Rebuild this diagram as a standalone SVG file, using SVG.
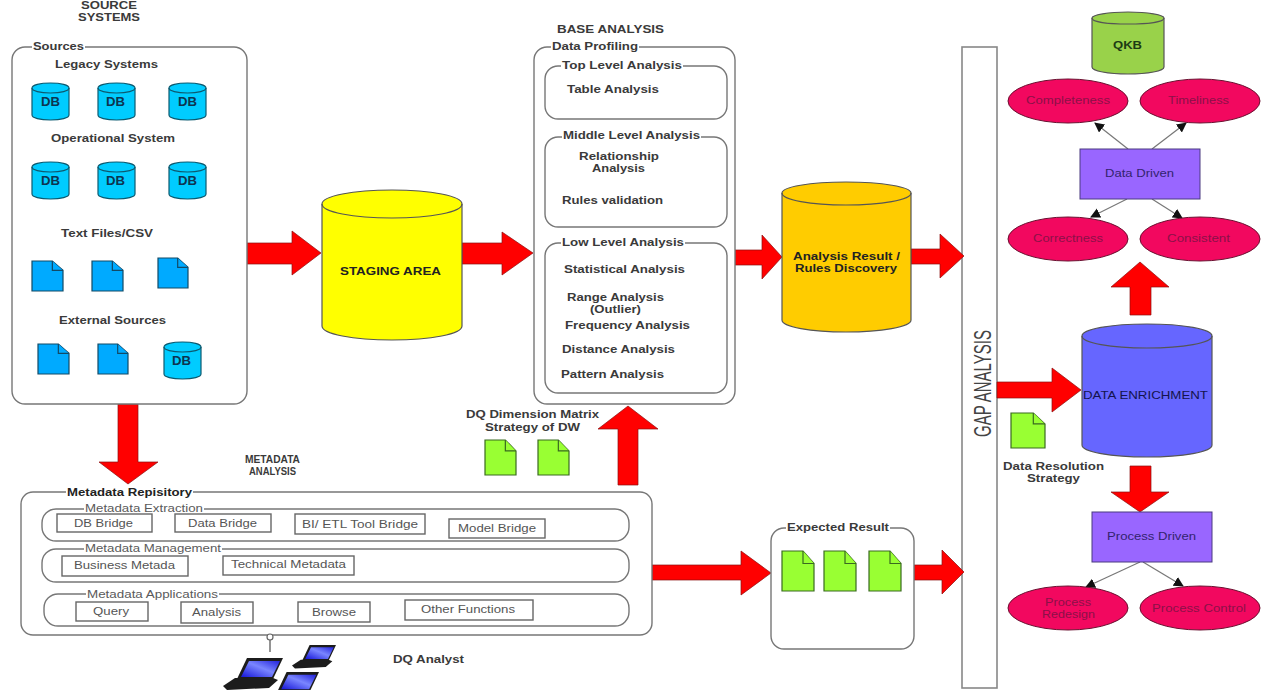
<svg xmlns="http://www.w3.org/2000/svg" xmlns:xlink="http://www.w3.org/1999/xlink" width="1263" height="690" viewBox="0 0 1263 690">
<style>
text{font-family:"Liberation Sans",Arial,sans-serif;font-size:11.5px;fill:#3a3a3a;}
.b{font-weight:bold;}
.n{fill:#555;}
.m{fill:#5a5a5a;}
.w{fill:#222;}
.dbt{font-weight:bold;fill:#0d3550;font-size:12px;}
.pink{fill:#8c1048;}
.vio{fill:#33236e;}
.box{fill:#fff;stroke:#777;stroke-width:1.4;}
.tb{fill:#fff;stroke:#666;stroke-width:1.4;}
.lg{fill:#fff;}
.arrow{fill:#ff0000;stroke:#8a1010;stroke-width:.7;}
.thin{stroke:#777;stroke-width:1.2;fill:none;marker-end:url(#tip);}
.ell{fill:#f2085f;stroke:#6a1030;stroke-width:1;}
.rct{fill:#9966ff;stroke:#4a3a80;stroke-width:1;}
.db{fill:#00ccff;stroke:#0c5a70;stroke-width:1.2;}
.bd{fill:#00aaff;stroke:#124a66;stroke-width:1.2;}
.gd{fill:#99ff33;stroke:#3a6a20;stroke-width:1.2;}
.cyl{stroke:#555;stroke-width:1.2;}
</style>
<defs>
<marker id="tip" markerWidth="11" markerHeight="11" refX="9" refY="5" orient="auto" markerUnits="userSpaceOnUse"><path d="M0,0L10,5L0,10Z" fill="#111"/></marker>
<symbol id="dbc" viewBox="0 0 37 37" overflow="visible"><path d="M0,5V32C0,35 8,37 18.500,37S37,35 37,32V5C37,2 29,0 18.500,0S0,2 0,5Z"/><path d="M0,5C0,8 8,10 18.500,10S37,8 37,5" fill="none"/></symbol>
<symbol id="doc" viewBox="0 0 32 32" preserveAspectRatio="none" overflow="visible"><path d="M0,0H21L32,10V32H0Z" vector-effect="non-scaling-stroke"/><path d="M21,0V10H32" vector-effect="non-scaling-stroke"/></symbol>
<linearGradient id="scr" x1="0" y1="1" x2="1" y2="0"><stop offset="0" stop-color="#1515d8"/><stop offset=".55" stop-color="#7a86ff"/><stop offset="1" stop-color="#2222dd"/></linearGradient>
<symbol id="lap" viewBox="0 0 60 32" overflow="visible"><path d="M14,21L24,0H60L50,21Z" fill="#1c1c1c"/><path d="M18,19L26,3H57L49,19Z" fill="url(#scr)"/><path d="M12,20H50L55,22L46,30L4,32L0,28Z" fill="#1c1c1c"/></symbol>
</defs>

<g id="gap-analysis">
<rect x="962" y="47" width="35" height="641" fill="#fff" stroke="#888" stroke-width="1.6"/>
<text transform="translate(990.500,437) rotate(-90)" x="0" y="0" textLength="107" lengthAdjust="spacingAndGlyphs" style="font-size:24px;fill:#444">GAP ANALYSIS</text>
</g>

<g id="connectors">
<path class="arrow" d="M247,243H292V231L321,253L292,275V264H247Z"/>
<path class="arrow" d="M462,243H502V232L533,253L502,275V264H462Z"/>
<path class="arrow" d="M735,250H762V235L782,257L762,279V265H735Z"/>
<path class="arrow" d="M911,249H940V234L964,256L940,278V264H911Z"/>
<path class="arrow" d="M118,404H138V462H158L128,484L99,462H118Z"/>
<path class="arrow" d="M618,485V429H598L628,406L658,429H638V485Z"/>
<path class="arrow" d="M652,565H741V551L771,573L741,595V580H652Z"/>
<path class="arrow" d="M914,565H942V550L964,572L942,594V580H914Z"/>
<path class="arrow" d="M997,382H1052V368L1081,390L1052,412V398H997Z"/>
<path class="arrow" d="M1130,315V287H1111L1140,262L1169,287H1151V315Z"/>
<path class="arrow" d="M1130,466H1151V492H1169L1140,512L1111,492H1130Z"/>
<line class="thin" x1="1128" y1="149" x2="1095" y2="123"/>
<line class="thin" x1="1152" y1="149" x2="1186" y2="123"/>
<line class="thin" x1="1127" y1="199" x2="1091" y2="217"/>
<line class="thin" x1="1152" y1="199" x2="1182" y2="218"/>
<line class="thin" x1="1140" y1="562" x2="1086" y2="587"/>
<line class="thin" x1="1143" y1="562" x2="1183" y2="586"/>
<line x1="270" y1="640" x2="270" y2="652" stroke="#666" stroke-width="1.4"/>
</g>

<g id="source-systems-title">
<text class="b" x="81" y="9" textLength="56" lengthAdjust="spacingAndGlyphs">SOURCE</text>
<text class="b" x="78" y="21" textLength="62" lengthAdjust="spacingAndGlyphs">SYSTEMS</text>
</g>

<g id="sources">
<rect class="box" x="12" y="47" width="235" height="357" rx="13"/>
<rect class="lg" x="32" y="42" width="53" height="10"/>
<text class="b" x="33" y="50" textLength="51" lengthAdjust="spacingAndGlyphs">Sources</text>
<text class="b" x="55" y="68" textLength="103" lengthAdjust="spacingAndGlyphs">Legacy Systems</text>
<text class="b" x="51" y="142" textLength="124" lengthAdjust="spacingAndGlyphs">Operational System</text>
<text class="b" x="61" y="237" textLength="92" lengthAdjust="spacingAndGlyphs">Text Files/CSV</text>
<text class="b" x="59" y="324" textLength="107" lengthAdjust="spacingAndGlyphs">External Sources</text>
<use class="db" xlink:href="#dbc" href="#dbc" x="32" y="83" width="37" height="37"/>
<use class="db" xlink:href="#dbc" href="#dbc" x="98" y="83" width="37" height="37"/>
<use class="db" xlink:href="#dbc" href="#dbc" x="169" y="83" width="37" height="37"/>
<use class="db" xlink:href="#dbc" href="#dbc" x="32" y="162" width="37" height="37"/>
<use class="db" xlink:href="#dbc" href="#dbc" x="98" y="162" width="37" height="37"/>
<use class="db" xlink:href="#dbc" href="#dbc" x="169" y="162" width="37" height="37"/>
<use class="db" xlink:href="#dbc" href="#dbc" x="164" y="342" width="37" height="37"/>
<text class="dbt" x="41" y="106" textLength="19" lengthAdjust="spacingAndGlyphs">DB</text>
<text class="dbt" x="106" y="106" textLength="19" lengthAdjust="spacingAndGlyphs">DB</text>
<text class="dbt" x="178" y="106" textLength="19" lengthAdjust="spacingAndGlyphs">DB</text>
<text class="dbt" x="41" y="185" textLength="19" lengthAdjust="spacingAndGlyphs">DB</text>
<text class="dbt" x="106" y="185" textLength="19" lengthAdjust="spacingAndGlyphs">DB</text>
<text class="dbt" x="178" y="185" textLength="19" lengthAdjust="spacingAndGlyphs">DB</text>
<text class="dbt" x="172" y="365" textLength="19" lengthAdjust="spacingAndGlyphs">DB</text>
<use class="bd" xlink:href="#doc" href="#doc" x="32" y="261" width="31" height="30"/>
<use class="bd" xlink:href="#doc" href="#doc" x="92" y="261" width="31" height="30"/>
<use class="bd" xlink:href="#doc" href="#doc" x="158" y="258" width="30" height="30"/>
<use class="bd" xlink:href="#doc" href="#doc" x="38" y="344" width="31" height="30"/>
<use class="bd" xlink:href="#doc" href="#doc" x="98" y="344" width="30" height="30"/>
</g>

<g id="staging-area">
<path class="cyl" fill="#ffff00" d="M322,204V326C322,334 353,340 392,340S462,334 462,326V204C462,196 431,190 392,190S322,196 322,204Z"/>
<path class="cyl" fill="none" d="M322,204C322,212 353,218 392,218S462,212 462,204"/>
<text class="b w" x="340" y="275" textLength="101" lengthAdjust="spacingAndGlyphs">STAGING AREA</text>
</g>

<g id="base-analysis">
<text class="b" x="557" y="33" textLength="107" lengthAdjust="spacingAndGlyphs">BASE ANALYSIS</text>
<rect class="box" x="534" y="47" width="201" height="357" rx="13"/>
<rect class="lg" x="551" y="42" width="88" height="10"/>
<text class="b" x="552" y="50" textLength="86" lengthAdjust="spacingAndGlyphs">Data Profiling</text>
<rect class="box" x="545" y="66" width="182" height="53" rx="13"/>
<rect class="lg" x="561" y="61" width="122" height="10"/>
<text class="b" x="562" y="69" textLength="120" lengthAdjust="spacingAndGlyphs">Top Level Analysis</text>
<text class="b" x="567" y="93" textLength="92" lengthAdjust="spacingAndGlyphs">Table Analysis</text>
<rect class="box" x="545" y="137" width="182" height="90" rx="13"/>
<rect class="lg" x="562" y="131" width="139" height="10"/>
<text class="b" x="563" y="139" textLength="137" lengthAdjust="spacingAndGlyphs">Middle Level Analysis</text>
<text class="b" x="579" y="160" textLength="80" lengthAdjust="spacingAndGlyphs">Relationship</text>
<text class="b" x="592" y="172" textLength="53" lengthAdjust="spacingAndGlyphs">Analysis</text>
<text class="b" x="562" y="204" textLength="101" lengthAdjust="spacingAndGlyphs">Rules validation</text>
<rect class="box" x="545" y="243" width="182" height="150" rx="13"/>
<rect class="lg" x="561" y="238" width="124" height="10"/>
<text class="b" x="562" y="246" textLength="122" lengthAdjust="spacingAndGlyphs">Low Level Analysis</text>
<text class="b" x="564" y="273" textLength="121" lengthAdjust="spacingAndGlyphs">Statistical Analysis</text>
<text class="b" x="567" y="301" textLength="97" lengthAdjust="spacingAndGlyphs">Range Analysis</text>
<text class="b" x="590" y="313" textLength="51" lengthAdjust="spacingAndGlyphs">(Outlier)</text>
<text class="b" x="565" y="329" textLength="125" lengthAdjust="spacingAndGlyphs">Frequency Analysis</text>
<text class="b" x="562" y="353" textLength="113" lengthAdjust="spacingAndGlyphs">Distance Analysis</text>
<text class="b" x="561" y="378" textLength="103" lengthAdjust="spacingAndGlyphs">Pattern Analysis</text>
</g>

<g id="analysis-result">
<path class="cyl" fill="#ffcc00" d="M782,193V320C782,327 811,332 846,332S911,327 911,320V193C911,187 882,182 846,182S782,187 782,193Z"/>
<path class="cyl" fill="none" d="M782,193C782,200 811,205 846,205S911,200 911,193"/>
<text class="b w" x="793" y="260" textLength="107" lengthAdjust="spacingAndGlyphs">Analysis Result /</text>
<text class="b w" x="795" y="272" textLength="102" lengthAdjust="spacingAndGlyphs">Rules Discovery</text>
</g>

<g id="dq-dimension-matrix">
<text class="b" x="466" y="418" textLength="133" lengthAdjust="spacingAndGlyphs">DQ Dimension Matrix</text>
<text class="b" x="485" y="431" textLength="95" lengthAdjust="spacingAndGlyphs">Strategy of DW</text>
<use class="gd" xlink:href="#doc" href="#doc" x="485" y="440" width="31" height="35"/>
<use class="gd" xlink:href="#doc" href="#doc" x="538" y="440" width="31" height="35"/>
</g>

<g id="metadata-title">
<text class="b" x="245" y="463" textLength="55" lengthAdjust="spacingAndGlyphs">METADATA</text>
<text class="b" x="249" y="475" textLength="47" lengthAdjust="spacingAndGlyphs">ANALYSIS</text>
</g>

<g id="metadata-repository">
<rect class="box" x="21" y="492" width="631" height="143" rx="12"/>
<rect class="lg" x="66" y="487" width="127" height="10"/>
<text class="b w" x="67" y="496" textLength="125" lengthAdjust="spacingAndGlyphs">Metadata Repisitory</text>

<rect class="box" x="42" y="509" width="587" height="32" rx="14"/>
<rect class="lg" x="84" y="504" width="120" height="10"/>
<text class="m" x="85" y="512" textLength="118" lengthAdjust="spacingAndGlyphs">Metadata Extraction</text>
<rect class="tb" x="57" y="514" width="95" height="18"/>
<text class="n" x="74" y="527" textLength="59" lengthAdjust="spacingAndGlyphs">DB Bridge</text>
<rect class="tb" x="175" y="514" width="96" height="18"/>
<text class="n" x="188" y="527" textLength="69" lengthAdjust="spacingAndGlyphs">Data Bridge</text>
<rect class="tb" x="295" y="514" width="130" height="20"/>
<text class="n" x="302" y="528" textLength="116" lengthAdjust="spacingAndGlyphs">BI/ ETL Tool Bridge</text>
<rect class="tb" x="449" y="519" width="96" height="19"/>
<text class="n" x="458" y="532" textLength="78" lengthAdjust="spacingAndGlyphs">Model Bridge</text>

<rect class="box" x="42" y="549" width="587" height="33" rx="14"/>
<rect class="lg" x="84" y="544" width="138" height="10"/>
<text class="m" x="85" y="552" textLength="136" lengthAdjust="spacingAndGlyphs">Metadata Management</text>
<rect class="tb" x="62" y="556" width="126" height="20"/>
<text class="n" x="74" y="569" textLength="101" lengthAdjust="spacingAndGlyphs">Business Metada</text>
<rect class="tb" x="223" y="556" width="131" height="19"/>
<text class="n" x="231" y="568" textLength="115" lengthAdjust="spacingAndGlyphs">Technical Metadata</text>

<rect class="box" x="44" y="594" width="585" height="32" rx="14"/>
<rect class="lg" x="86" y="589" width="133" height="10"/>
<text class="m" x="87" y="598" textLength="131" lengthAdjust="spacingAndGlyphs">Metadata Applications</text>
<rect class="tb" x="76" y="602" width="72" height="19"/>
<text class="n" x="93" y="615" textLength="36" lengthAdjust="spacingAndGlyphs">Query</text>
<rect class="tb" x="181" y="602" width="72" height="21"/>
<text class="n" x="192" y="616" textLength="49" lengthAdjust="spacingAndGlyphs">Analysis</text>
<rect class="tb" x="298" y="602" width="72" height="20"/>
<text class="n" x="312" y="616" textLength="44" lengthAdjust="spacingAndGlyphs">Browse</text>
<rect class="tb" x="405" y="600" width="128" height="20"/>
<text class="n" x="421" y="613" textLength="94" lengthAdjust="spacingAndGlyphs">Other Functions</text>
</g>

<g id="dq-analyst">
<circle cx="270" cy="637" r="3" fill="#fff" stroke="#666" stroke-width="1.2"/>
<use xlink:href="#lap" href="#lap" x="223" y="658" width="60" height="32"/>
<use xlink:href="#lap" href="#lap" x="292" y="645" width="44" height="23.500"/>
<use xlink:href="#lap" href="#lap" x="265" y="672" width="54" height="29"/>
<text class="b" x="393" y="663" textLength="71" lengthAdjust="spacingAndGlyphs">DQ Analyst</text>
</g>

<g id="expected-result">
<rect class="box" x="771" y="528" width="143" height="121" rx="13"/>
<rect class="lg" x="786" y="522" width="104" height="10"/>
<text class="b" x="787" y="531" textLength="102" lengthAdjust="spacingAndGlyphs">Expected Result</text>
<use class="gd" xlink:href="#doc" href="#doc" x="782" y="551" width="32" height="40"/>
<use class="gd" xlink:href="#doc" href="#doc" x="824" y="551" width="32" height="40"/>
<use class="gd" xlink:href="#doc" href="#doc" x="869" y="551" width="32" height="40"/>
</g>

<g id="qkb">
<path class="cyl" fill="#99d24a" d="M1092,18V67C1092,71 1108,74 1128,74S1164,71 1164,67V18C1164,15 1148,12 1128,12S1092,15 1092,18Z"/>
<path class="cyl" fill="none" d="M1092,18C1092,22 1108,24 1128,24S1164,22 1164,18"/>
<text class="b" x="1113" y="49" textLength="29" lengthAdjust="spacingAndGlyphs" style="fill:#1d3a14">QKB</text>
</g>

<g id="completeness"><ellipse class="ell" cx="1068" cy="101" rx="60" ry="22"/><text class="pink" x="1026" y="104" textLength="84" lengthAdjust="spacingAndGlyphs">Completeness</text></g>
<g id="timeliness"><ellipse class="ell" cx="1200" cy="101" rx="60" ry="22"/><text class="pink" x="1168" y="104" textLength="61" lengthAdjust="spacingAndGlyphs">Timeliness</text></g>
<g id="data-driven"><rect class="rct" x="1080" y="149" width="120" height="50"/><text class="vio" x="1105" y="177" textLength="69" lengthAdjust="spacingAndGlyphs">Data Driven</text></g>
<g id="correctness"><ellipse class="ell" cx="1068" cy="239" rx="60" ry="22"/><text class="pink" x="1033" y="242" textLength="70" lengthAdjust="spacingAndGlyphs">Correctness</text></g>
<g id="consistent"><ellipse class="ell" cx="1200" cy="239" rx="60" ry="22"/><text class="pink" x="1167" y="242" textLength="63" lengthAdjust="spacingAndGlyphs">Consistent</text></g>

<g id="data-enrichment">
<path class="cyl" fill="#6666ff" d="M1082,336V445C1082,452 1111,457 1147,457S1212,452 1212,445V336C1212,329 1183,324 1147,324S1082,329 1082,336Z"/>
<path class="cyl" fill="none" d="M1082,336C1082,343 1111,348 1147,348S1212,343 1212,336"/>
<text x="1083" y="399" textLength="125" lengthAdjust="spacingAndGlyphs" style="fill:#14144e">DATA ENRICHMENT</text>
</g>

<g id="data-resolution-strategy">
<use class="gd" xlink:href="#doc" href="#doc" x="1011" y="413" width="34" height="35"/>
<text class="b" x="1003" y="470" textLength="101" lengthAdjust="spacingAndGlyphs">Data Resolution</text>
<text class="b" x="1027" y="482" textLength="53" lengthAdjust="spacingAndGlyphs">Strategy</text>
</g>

<g id="process-driven"><rect class="rct" x="1092" y="512" width="120" height="50"/><text class="vio" x="1107" y="540" textLength="89" lengthAdjust="spacingAndGlyphs">Process Driven</text></g>
<g id="process-redesign"><ellipse class="ell" cx="1068" cy="608" rx="60" ry="22"/><text class="pink" x="1045" y="606" textLength="46" lengthAdjust="spacingAndGlyphs">Process</text><text class="pink" x="1042" y="618" textLength="53" lengthAdjust="spacingAndGlyphs">Redesign</text></g>
<g id="process-control"><ellipse class="ell" cx="1200" cy="608" rx="60" ry="22"/><text class="pink" x="1152" y="612" textLength="94" lengthAdjust="spacingAndGlyphs">Process Control</text></g>
</svg>
